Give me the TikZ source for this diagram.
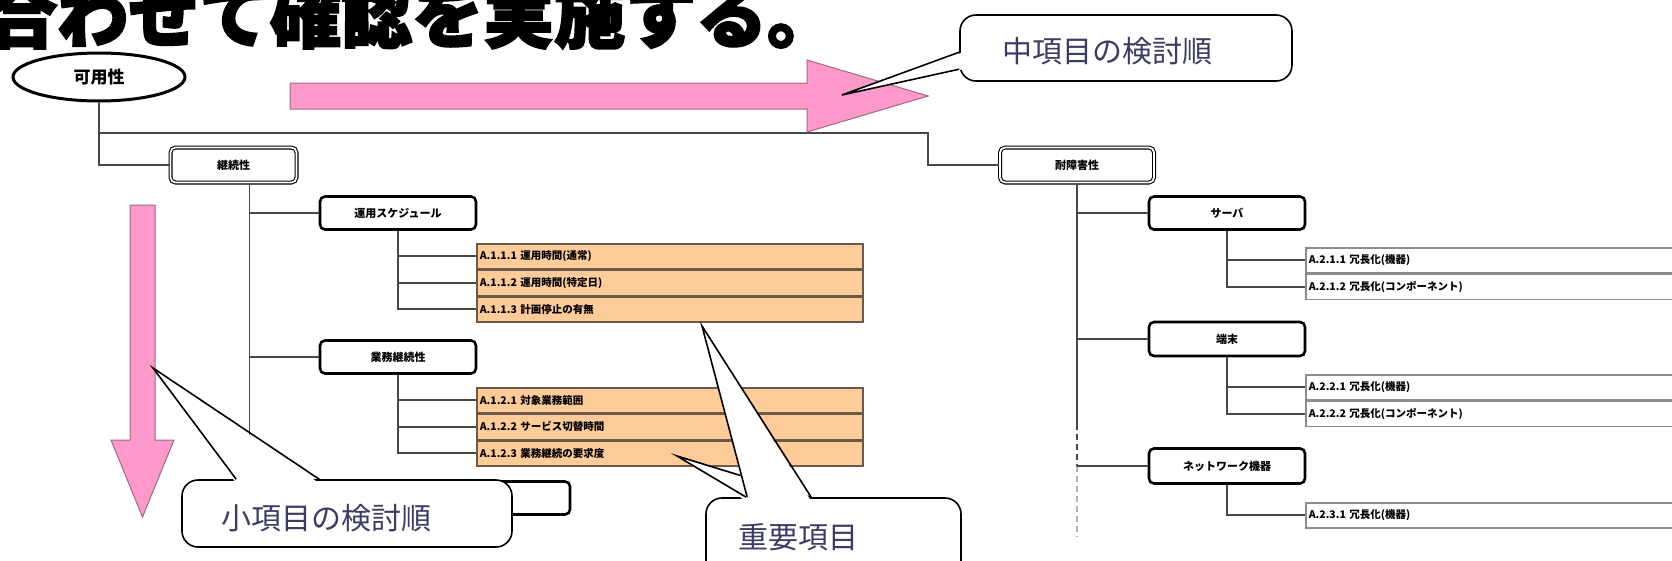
\documentclass[tikz,border=0pt]{standalone}
\usepackage{fontspec}
\setmainfont{Noto Sans CJK JP}
\newfontfamily\titlefont{Noto Sans CJK JP}[BoldFeatures={FakeBold=3}]
\usetikzlibrary{shapes.geometric, positioning, calc}
\definecolor{pinkarrow}{HTML}{FF99CC}
\definecolor{pinkedge}{HTML}{9A6A82}
\definecolor{roworange}{HTML}{FFCC99}
\definecolor{rowedge}{HTML}{6B5A4A}
\definecolor{treeline}{HTML}{474747}
\definecolor{notecolor}{HTML}{3C3C64}

\begin{document}
\begin{tikzpicture}[
    x=1pt, y=-1pt,
    % --- node styles ---
    rootnode/.style={
        ellipse, draw=black, line width=3pt, fill=white,
        minimum width=172pt, minimum height=48pt,
        font=\bfseries\fontsize{17}{17}\selectfont
    },
    groupbox/.style={
        rectangle, rounded corners=5pt, draw=black, line width=1.1pt,
        double=white, double distance=1.8pt, fill=white,
        minimum width=154pt, minimum height=35pt,
        font=\bfseries\fontsize{11}{11}\selectfont
    },
    itembox/.style={
        rectangle, rounded corners=5pt, draw=black, line width=2.6pt,
        fill=white, minimum width=156pt, minimum height=33pt,
        font=\bfseries\fontsize{11}{11}\selectfont
    },
    keyrow/.style={
        rectangle, draw=rowedge, line width=1.5pt, fill=roworange,
        anchor=north west, text width=380pt, inner xsep=3pt, inner ysep=0pt,
        minimum height=25pt, align=left,
        font=\bfseries\fontsize{10.5}{10.5}\selectfont
    },
    plainrow/.style={keyrow, draw=black!45, fill=white, text width=390pt},
    link/.style={draw=treeline, line width=1.6pt},
    dashlink/.style={link, dash pattern=on 6pt off 4pt},
    bigarrow/.style={fill=pinkarrow, draw=pinkedge, line width=1pt, line join=miter},
    notebox/.style={
        rectangle, rounded corners=16pt, draw=black, line width=1.6pt,
        fill=white, inner sep=0pt
    },
    notetip/.style={fill=white},
    noteedge/.style={draw=black, line width=1.6pt, line join=miter},
    notetext/.style={text=notecolor, font=\fontsize{30}{30}\selectfont},
    heading/.style={font=\titlefont\bfseries\fontsize{71}{71}\selectfont, inner sep=0pt},
]

\useasboundingbox (0,0) rectangle (1672,560);
\clip (0,0) rectangle (1672,560);
\fill[white] (0,0) rectangle (1672,560);

% ===== ROOT =====
\node[rootnode] (usable) at (99,77) {可用性};

% ===== GROUPS =====
\node[groupbox, minimum width=126pt] (keizoku) at (233.5,165) {継続性};
\node[groupbox] (taishou) at (1077,165) {耐障害性};

\coordinate (bus) at (928,133);
\draw[link] (usable.south) |- (keizoku.west);
\draw[link] (usable.south |- bus) -- (bus) |- (taishou.west);

% ===== CONTINUITY BRANCH =====
\node[itembox] (unyou) at (398,213) {運用スケジュール};
\node[itembox] (gyomu) at (398,357) {業務継続性};
\node[itembox, minimum width=250pt] (mokuhyo) at (445,498) {};

\coordinate (keizokudrop) at ([xshift=16pt]keizoku.south);
\draw[link] (keizokudrop) |- (unyou.west);
\draw[link] (keizokudrop) |- (gyomu.west);
\draw[link] (keizokudrop) |- (mokuhyo.west);

\node[keyrow] (r111) at (476,243) {A.1.1.1 運用時間(通常)};
\node[keyrow, below=0pt of r111] (r112) {A.1.1.2 運用時間(特定日)};
\node[keyrow, below=0pt of r112] (r113) {A.1.1.3 計画停止の有無};
\foreach \r in {r111, r112, r113}
    \draw[link] (unyou.south) |- (\r.west);

\node[keyrow] (r121) at (476,387) {A.1.2.1 対象業務範囲};
\node[keyrow, below=0pt of r121] (r122) {A.1.2.2 サービス切替時間};
\node[keyrow, below=0pt of r122] (r123) {A.1.2.3 業務継続の要求度};
\foreach \r in {r121, r122, r123}
    \draw[link] (gyomu.south) |- (\r.west);

% ===== FAULT TOLERANCE BRANCH =====
\node[itembox] (server) at (1227,213) {サーバ};
\node[itembox, minimum height=34pt] (terminal) at (1227,339) {端末};
\node[itembox, minimum height=35pt] (network) at (1227,466) {ネットワーク機器};

\coordinate (dashstart) at (1077,424);
\coordinate (dashend) at (1077,537);
\draw[link] (taishou.south) |- (server.west);
\draw[link] (taishou.south) |- (terminal.west);
\draw[link] (taishou.south) -- (dashstart);
\draw[dashlink] (dashstart) -- (dashstart |- network.west);
\draw[dashlink, draw=gray!60] (dashstart |- network.west) -- (dashend);
\draw[link] (dashstart |- network.west) -- (network.west);

\node[plainrow] (r211) at (1305,247) {A.2.1.1 冗長化(機器)};
\node[plainrow, below=0pt of r211] (r212) {A.2.1.2 冗長化(コンポーネント)};
\node[plainrow] (r221) at (1305,374) {A.2.2.1 冗長化(機器)};
\node[plainrow, below=0pt of r221] (r222) {A.2.2.2 冗長化(コンポーネント)};
\node[plainrow] (r231) at (1305,502) {A.2.3.1 冗長化(機器)};
\foreach \r in {r211, r212}
    \draw[link] (server.south) |- (\r.west);
\foreach \r in {r221, r222}
    \draw[link] (terminal.south) |- (\r.west);
\draw[link] (network.south) |- (r231.west);

% ===== ORDER ARROWS =====
\draw[bigarrow] (290,83) -- (807,83) -- (807,60) -- (928,96) -- (807,132)
    -- (807,109) -- (290,109) -- cycle;
\draw[bigarrow] (130,205) -- (155,205) -- (155,440) -- (174,440) -- (142.5,517)
    -- (111,440) -- (130,440) -- cycle;

% ===== CALLOUTS =====
% middle items
\node[notebox, minimum width=332pt, minimum height=66pt] (midnote) at (1126,48) {};
\coordinate (midtip) at (842,95);
\fill[notetip] ($(midnote.north west)+(4,38)$) -- (midtip) -- ($(midnote.north west)+(4,55)$) -- cycle;
\draw[noteedge] ($(midnote.north west)+(0,38)$) -- (midtip) -- ($(midnote.north west)+(0,55)$);
\node[notetext] (midlabel) at (1107,51) {中項目の検討順};

% small items
\node[notebox, minimum width=330pt, minimum height=67pt] (minornote) at (347,513.5) {};
\coordinate (minortip) at (153,368);
\fill[notetip] ($(minornote.north west)+(55,4)$) -- (minortip) -- ($(minornote.north west)+(138,4)$) -- cycle;
\draw[noteedge] ($(minornote.north west)+(55,0)$) -- (minortip) -- ($(minornote.north west)+(138,0)$);
\node[notetext] (minorlabel) at (326,518) {小項目の検討順};

% key items
\node[notebox, minimum width=255pt, minimum height=100pt] (keynote) at (833.5,548) {};
\coordinate (keytipB) at (677,456);
\coordinate (keytipA) at (702,326);
\fill[notetip] ($(keynote.north west)+(41,4)$) -- (keytipB) -- ($(keynote.north west)+(106,4)$) -- cycle;
\draw[noteedge] ($(keynote.north west)+(41,0)$) -- (keytipB) -- ($(keynote.north west)+(106,0)$);
\fill[notetip] ($(keynote.north west)+(42,4)$) -- (keytipA) -- ($(keynote.north west)+(106,4)$) -- cycle;
\draw[noteedge] ($(keynote.north west)+(42,0)$) -- (keytipA) -- ($(keynote.north west)+(106,0)$);
\node[notetext] (keylabel) at (798,537) {重要項目};

% ===== HEADING =====
\node[heading, anchor=base west] (title) at (-14,42) {合わせて確認を実施する。};

\end{tikzpicture}
\end{document}
